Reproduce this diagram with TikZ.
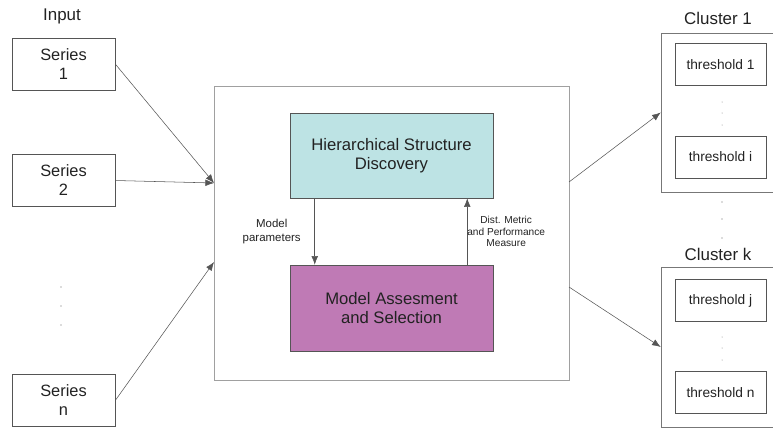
\documentclass[tikz,border=0pt]{standalone}
\usepackage{fontspec}
\setmainfont{Liberation Sans}
\usepackage{xcolor}
\usetikzlibrary{arrows.meta, positioning, calc}

\definecolor{hsdcyan}{RGB}{189,227,228}
\definecolor{maspurple}{RGB}{191,122,181}
\definecolor{edgegray}{RGB}{85,85,85}
\definecolor{framegray}{RGB}{160,160,160}
\definecolor{txtgray}{RGB}{34,34,34}

\begin{document}
\begin{tikzpicture}[x=0.75pt, y=-0.75pt,
  every node/.style={text=txtgray},
  seriesbox/.style={rectangle, draw=edgegray, minimum width=77.25pt, minimum height=39pt, align=center, font=\fontsize{12.3}{14.2}\selectfont},
  threshbox/.style={rectangle, draw=edgegray, minimum width=68.25pt, minimum height=31.5pt, font=\fontsize{10.3}{12}\selectfont},
  clusterbox/.style={rectangle, draw=edgegray!80, minimum width=89.25pt},
  stagebox/.style={rectangle, draw=edgegray, minimum width=152.25pt, align=center, font=\fontsize{12.5}{13.8}\selectfont},
  heading/.style={font=\fontsize{12.7}{14}\selectfont},
  smalllabel/.style={align=center, font=\fontsize{8.6}{9.8}\selectfont},
  arr/.style={draw=edgegray, -{Latex[length=6.5pt,width=5pt]}, color=edgegray}]
\clip (0,0) rectangle (773,428);

% input side
\node[heading] (input) at (62,16) {Input};
\node[seriesbox] (s1) at (63.5,64) {Series\\1};
\node[seriesbox] (s2) at (63.5,180.5) {Series\\2};
\node[seriesbox] (sn) at (63.5,400.5) {Series\\n};
\foreach \y in {287,306,325}
  \fill[gray!80!black] (61,\y) circle (0.7);

% central block
\node[rectangle, draw=framegray, minimum width=266.25pt, minimum height=220.5pt] (main) at (391.5,233) {};
\node[stagebox, fill=hsdcyan, minimum height=63.75pt] (hsd) at (391.5,155.5) {Hierarchical Structure\\Discovery};
\node[stagebox, fill=maspurple, minimum height=64.5pt] (mas) at (391.5,308) {Model Assesment\\and Selection};
\coordinate (in1) at (214,183);
\coordinate (in3) at (214,262);
\coordinate (out1) at (569,182);
\coordinate (out2) at (569,287);

\draw[arr] ([xshift=18.75pt]hsd.south west) -- node[smalllabel, left=7pt] {Model\\parameters} ([xshift=18.75pt]mas.north west);
\draw[arr] ([xshift=-19.5pt]mas.north east) -- node[smalllabel, right=-3.5pt, font=\fontsize{7.6}{8.8}\selectfont] {Dist. Metric\\and Performance\\Measure} ([xshift=-19.5pt]hsd.south east);

% clusters
\node[heading] (c1label) at (718,18) {Cluster 1};
\node[clusterbox, minimum height=119.25pt] (c1) at (720.5,112.5) {};
\node[threshbox] (t1) at (720.5,64.5) {threshold 1};
\node[threshbox] (ti) at (720.5,157) {threshold i};
\node[heading] (cklabel) at (718,254) {Cluster k};
\node[clusterbox, minimum height=120pt] (ck) at (720.5,347) {};
\node[threshbox] (tj) at (720.5,300.5) {threshold j};
\node[threshbox] (tn) at (720.5,392.5) {threshold n};
\foreach \y in {102,113,125,337,348,360}
  \fill[gray] (722,\y) circle (0.5);
\foreach \y in {202,219,238}
  \fill[gray!80!black] (722,\y) circle (0.7);

% connectors
\draw[arr] (s1.east) -- (in1);
\draw[arr] (s2.east) -- (in1);
\draw[arr] (sn.east) -- (in3);
\draw[arr] (out1) -- (c1.west);
\draw[arr] (out2) -- (ck.west);
\end{tikzpicture}
\end{document}
